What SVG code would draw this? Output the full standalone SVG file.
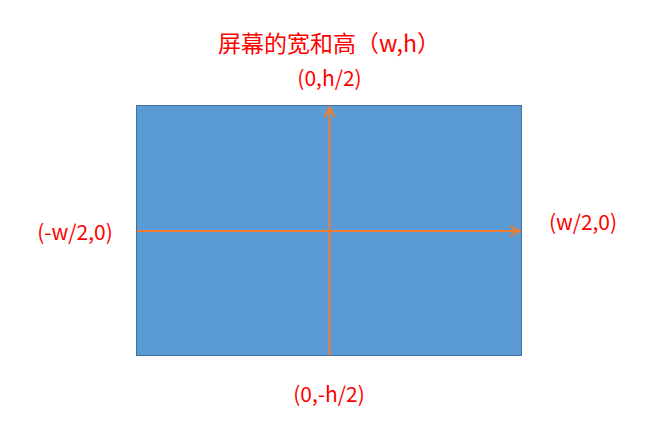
<svg xmlns="http://www.w3.org/2000/svg" width="668" height="434" viewBox="0 0 668 434">
<style>
.lbl{font-family:"Noto Sans CJK SC","Noto Sans",sans-serif;fill:#FF0000;text-anchor:middle}
.axis{stroke:#ED7D31;stroke-width:2;fill:none}
</style>
<defs>
<marker id="arr" viewBox="0 0 12 12" refX="11" refY="6" markerWidth="12" markerHeight="12" markerUnits="userSpaceOnUse" orient="auto">
<path d="M1,1 L11,6 L1,11" fill="none" stroke="#ED7D31" stroke-width="2"/>
</marker>
</defs>
<rect width="668" height="434" fill="#FFFFFF"/>
<g id="screen">
<rect x="136.5" y="105.5" width="385" height="250" fill="#5B9BD5" stroke="#41719C" stroke-width="1"/>
</g>
<g id="connectors">
<line class="axis" x1="137" y1="231" x2="520" y2="231" marker-end="url(#arr)"/>
<line class="axis" x1="329.5" y1="355" x2="329.5" y2="107" marker-end="url(#arr)"/>
</g>
<g id="title"><text class="lbl" x="329" y="52" font-size="23">屏幕的宽和高（w,h）</text></g>
<g id="top"><text class="lbl" x="329.5" y="86" font-size="21">(0,h/2)</text></g>
<g id="left"><text class="lbl" x="75" y="240" font-size="21">(-w/2,0)</text></g>
<g id="right"><text class="lbl" x="583" y="230" font-size="21">(w/2,0)</text></g>
<g id="bottom"><text class="lbl" x="329" y="402" font-size="21">(0,-h/2)</text></g>
</svg>
